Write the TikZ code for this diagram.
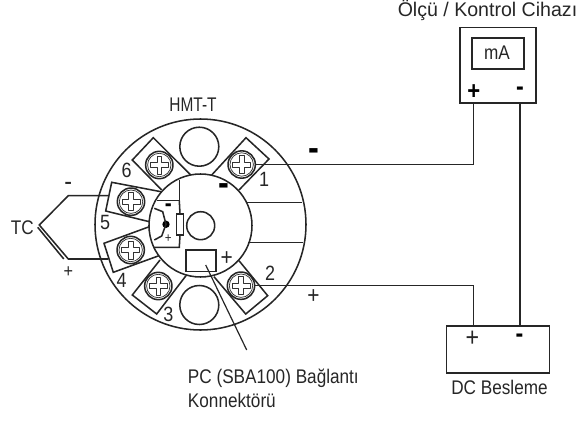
\documentclass[tikz,border=0pt]{standalone}
\usepackage{fontspec}
\setmainfont[FakeStretch=0.87]{Liberation Sans}
\begin{document}
\begin{tikzpicture}[x=0.75pt,y=-0.75pt,
  ln/.style={line width=1.15pt,draw=black!85},
  thin ln/.style={line width=0.55pt,draw=black!80},
  box/.style={ln,rectangle,inner sep=0pt,anchor=north west},
  lbl/.style={inner sep=0pt,text=black!85,font=\fontsize{14.8pt}{16pt}\selectfont},
  lblL/.style={lbl,align=left,anchor=base west},
  numl/.style={inner sep=0pt,text=black!85,font=\fontsize{15.5pt}{16pt}\selectfont},
  sign/.style={inner sep=0pt,text=black!85,font=\fontsize{#1pt}{#1pt}\selectfont},
  bsign/.style={inner sep=0pt,text=black,font=\fontsize{#1pt}{#1pt}\selectfont\bfseries},
  screwhead/.style={circle,ln,minimum size=20.5pt,inner sep=0pt},
  hole/.style={circle,ln,inner sep=0pt,minimum size=#1},
  screwcross/.pic={
    \draw[thin ln] (0,0) circle (11.7);
    \draw[thin ln,line join=round] (-2.4,-9)--(2.4,-9)--(2.4,-2.4)--(9,-2.4)--(9,2.4)--(2.4,2.4)--(2.4,9)--(-2.4,9)--(-2.4,2.4)--(-9,2.4)--(-9,-2.4)--(-2.4,-2.4)--cycle;
  }]
\useasboundingbox (0,0) rectangle (579,421);

% housing
\node[hole=158.25pt] (outer) at (200.5,224.5) {};
\node[hole=77.25pt] (inner) at (200.5,225.5) {};
\node[hole=21pt] (hub) at (200.7,225.7) {};
\node[hole=29.25pt] (holeT) at (199.3,146.7) {};
\node[hole=29.25pt] (holeB) at (199.3,305) {};

% terminal blocks
\draw[ln,line join=miter] (190.7,175)--(153.3,137.7)--(132.3,160)--(161.7,190);
\draw[ln,line join=miter] (211.7,175)--(246,137.7)--(269,159)--(239,190);
\draw[ln,line join=miter] (239,260.7)--(267.7,295.7)--(245.7,314)--(214,276.7);
\draw[ln,line join=miter] (160,260)--(132.3,295)--(156.7,314)--(186,275.7);
\draw[ln,line join=miter] (161,191.7)--(111.7,182.3)--(105.7,211)--(149.3,221.7);
\draw[ln,line join=miter] (149.3,226.7)--(104,243.3)--(113.3,272.3)--(159,255.7);

% screws
\foreach \n/\p in {s1/{241.7,164.5},s2/{241,285.7},s3/{158.3,286},s4/{130.7,250},s5/{131,201.7},s6/{159.3,165}}{
  \node[screwhead] (\n) at (\p) {};
  \pic at (\p) {screwcross};
}

% notch at the right of the housing
\draw[ln] (246.5,202.5)--(302,202.5);
\draw[ln] (248,242.7)--(303,242.7);

% inner circuit
\node[box,minimum width=5.25pt,minimum height=15.75pt] (res) at (175.7,213.3) {};
\node[circle,fill=black,inner sep=0pt,minimum size=5.5pt] (dot) at (166,224.3) {};
\coordinate (cTop) at (179.3,180);
\coordinate (cUL) at (156.7,200.7);
\coordinate (cLL) at (153.3,247.3);
\draw[ln] (cTop)--(179.3,200.7)--(cUL);
\draw[ln] (179.3,200.7)--(res.north);
\draw[ln] (res.south)--(179.3,247.3)--(cLL);
\draw[ln] (154.3,208.3)--(162.7,211.7)--(dot.center)--(161.7,236)--(154.3,240);

% PC connector
\node[box,minimum width=22.7pt,minimum height=16.2pt] (pc) at (185,249.3) {};
\coordinate (pcIn) at (205.7,265);
\coordinate (pcEnd) at (246.7,350);
\draw[ln,line width=0.9pt] (pcIn)--(pcEnd);

% meter and supply
\node[box,minimum width=57.2pt,minimum height=56.7pt] (meter) at (459,26.7) {};
\node[box,minimum width=39.2pt,minimum height=23pt] (ma) at (471,37.3) {};
\node[box,minimum width=77.2pt,minimum height=35.5pt] (dc) at (445.7,325) {};
\coordinate (mp) at (473.3,102.3);
\coordinate (mm) at (520,102.3);
\coordinate (dp) at (473.3,325);
\coordinate (dm) at (520,325);
\draw[ln] (s1.east) -| (mp);
\draw[ln] (s2.east) -| (dp);
\draw[ln] (mm)--(dm);

% thermocouple
\coordinate (tcA) at (39.3,225);
\coordinate (tcB) at (68.3,195.7);
\coordinate (tcC) at (109,195.7);
\coordinate (tcD) at (68.3,259);
\coordinate (tcE) at (108,259);
\draw[ln] (tcC)--(tcB)--(tcA)--(tcD)--(tcE);
\draw[ln] (37.7,227.3)--(63.8,259);

% labels
\node[lbl] (lHMT) at (193,105) {\scalebox{0.9}[1]{HMT-T}};
\node[lbl] (lTop) at (487.5,10) {\scalebox{1.14}[1]{Ölçü / Kontrol Cihazı}};
\node[lbl] (lmA) at (497,53) {mA};
\node[lbl] (lTC) at (22.3,228) {TC};
\node[lbl] (lDC) at (499.5,387) {DC Besleme};
\node[lblL] (lPC1) at (187.7,383) {PC (SBA100) Bağlantı};
\node[lblL] (lPC2) at (187.7,407.7) {Konnektörü};

\node[numl] (n1) at (264,179.3) {1};
\node[numl] (n2) at (270,273.3) {2};
\node[numl] (n3) at (168.3,314.3) {3};
\node[numl] (n4) at (121.7,280.7) {4};
\node[numl] (n5) at (105,222.3) {5};
\node[numl] (n6) at (126.7,170) {6};

\node[sign=20] (a1) at (68.3,186.7) {-};
\node[sign=14] (a2) at (68.3,271.7) {+};
\node[bsign=28] (a3) at (314,155) {-};
\node[sign=18] (a4) at (313.5,297) {+};
\node[bsign=28] (a5) at (224,190) {-};
\node[sign=18] (a6) at (226.7,258.3) {+};
\node[bsign=18] (a7) at (168.3,207.7) {-};
\node[sign=10] (a8) at (168.3,239) {+};
\node[bsign=19] (a9) at (473.8,92) {+};
\node[bsign=20] (a10) at (520,91) {-};
\node[sign=20] (a11) at (472.5,339) {+};
\node[bsign=20] (a12) at (519.5,338) {-};
\end{tikzpicture}
\end{document}
